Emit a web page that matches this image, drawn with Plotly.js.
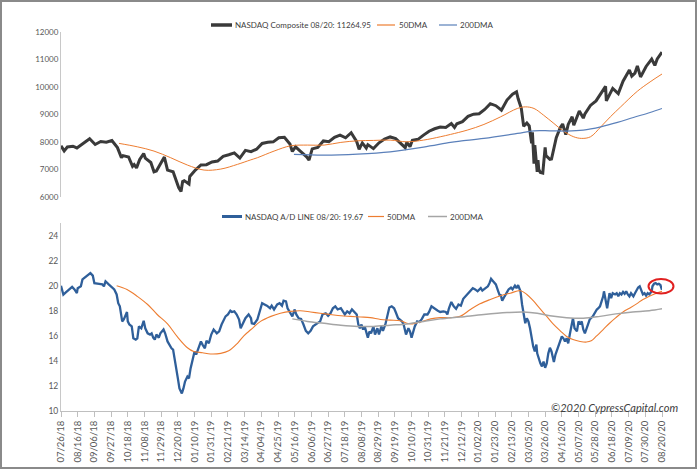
<!DOCTYPE html>
<html>
<head>
<meta charset="utf-8">
<script src="https://cdn.plot.ly/plotly-3.0.1.min.js"></script>
<style>
  html, body { margin: 0; padding: 0; background: #fff; }
  #wrap { position: relative; width: 700px; height: 473px; }
  #chart { width: 700px; height: 473px; }
  #frame { position: absolute; left: 0; top: 0; width: 693px; height: 465px; border: 2px solid #8a8a8a; pointer-events: none; }
</style>
</head>
<body>
<div id="wrap"><div id="chart"></div><div id="frame"></div></div>
<script>
// ---------- DATA ----------
const startDate = '2018-07-26';
const endDate = '2020-08-20';
const tickFormat = '%m/%d/%y';

const nasdaqDates = ['2018-07-26','2018-07-30','2018-08-03','2018-08-10','2018-08-15','2018-08-17','2018-08-24','2018-08-31','2018-09-07','2018-09-14','2018-09-21','2018-09-28','2018-10-05','2018-10-10','2018-10-12','2018-10-19','2018-10-24','2018-10-26','2018-10-29','2018-11-02','2018-11-07','2018-11-09','2018-11-16','2018-11-20','2018-11-23','2018-11-30','2018-12-03','2018-12-07','2018-12-14','2018-12-21','2018-12-24','2018-12-26','2018-12-28','2019-01-03','2019-01-04','2019-01-11','2019-01-18','2019-01-25','2019-02-01','2019-02-08','2019-02-15','2019-02-22','2019-03-01','2019-03-08','2019-03-15','2019-03-22','2019-03-29','2019-04-05','2019-04-12','2019-04-19','2019-04-26','2019-05-03','2019-05-10','2019-05-13','2019-05-17','2019-05-24','2019-05-31','2019-06-03','2019-06-07','2019-06-14','2019-06-21','2019-06-28','2019-07-05','2019-07-12','2019-07-19','2019-07-26','2019-08-02','2019-08-05','2019-08-09','2019-08-14','2019-08-16','2019-08-23','2019-08-30','2019-09-06','2019-09-13','2019-09-20','2019-09-27','2019-10-02','2019-10-04','2019-10-08','2019-10-11','2019-10-18','2019-10-25','2019-11-01','2019-11-08','2019-11-15','2019-11-22','2019-11-29','2019-12-03','2019-12-06','2019-12-13','2019-12-20','2019-12-27','2020-01-03','2020-01-10','2020-01-17','2020-01-24','2020-01-31','2020-02-07','2020-02-14','2020-02-19','2020-02-21','2020-02-25','2020-02-28','2020-03-03','2020-03-06','2020-03-09','2020-03-10','2020-03-12','2020-03-13','2020-03-16','2020-03-17','2020-03-18','2020-03-20','2020-03-23','2020-03-26','2020-03-27','2020-04-01','2020-04-03','2020-04-09','2020-04-14','2020-04-17','2020-04-21','2020-04-24','2020-04-29','2020-05-01','2020-05-08','2020-05-13','2020-05-15','2020-05-22','2020-05-29','2020-06-05','2020-06-10','2020-06-11','2020-06-19','2020-06-26','2020-07-02','2020-07-10','2020-07-13','2020-07-17','2020-07-20','2020-07-24','2020-07-31','2020-08-07','2020-08-11','2020-08-14','2020-08-20'];
const nasdaqValues = [7852,7671,7812,7839,7775,7816,7945,8109,7903,8010,7987,8046,7788,7422,7497,7449,7108,7167,7050,7357,7570,7407,7247,6909,6939,7331,7442,6969,6911,6333,6193,6554,6585,6463,6739,6971,7157,7165,7264,7298,7472,7527,7595,7408,7688,7643,7729,7939,7985,7998,8146,8164,7917,7647,7816,7637,7453,7333,7742,7797,8032,8006,8162,8244,8146,8330,8004,7726,7959,7773,7896,7752,7963,8103,8177,8118,7940,7786,7982,7824,8057,8090,8243,8386,8475,8541,8520,8665,8521,8657,8735,8925,9007,9021,9179,9389,9315,9151,9521,9731,9817,9577,9221,8567,8684,8576,7950,8344,7201,7875,6905,7335,6990,6880,6861,7798,7502,7360,7373,8154,8516,8650,8263,8634,8915,8605,9121,8863,9015,9325,9490,9815,10020,9492,9946,9757,10208,10617,10391,10503,10767,10363,10745,11011,10782,11019,11265];

// moving averages (x = days since 07/26/18)
const nasdaq50Days = [73,96,117,138,159,180,201,222,238,247,268,289,310,331,352,373,393,414,435,456,477,490,511,532,553,574,584,595,607,620,632,645,655,666,679,691,704,725,741,756];
const nasdaq50Values = [7942,7818,7662,7420,7153,6970,7007,7178,7335,7420,7662,7855,7880,7880,7978,8036,8050,8062,8000,8062,8182,8269,8425,8632,8910,9214,9273,9214,8970,8669,8390,8182,8124,8182,8545,8910,9273,9842,10182,10470];
const nasdaq200Days = [293,331,373,414,456,490,502,532,574,595,615,636,657,679,700,720,741,756];
const nasdaq200Values = [7542,7516,7553,7636,7807,7978,8025,8124,8305,8400,8400,8390,8425,8545,8705,8887,9069,9214];

const adDays = [0,3,5,8,12,14,17,20,21,25,27,31,35,37,40,42,48,52,54,56,60,63,67,70,72,74,76,77,79,83,84,86,89,91,94,96,98,101,104,106,109,112,114,116,118,120,123,125,129,131,134,137,139,141,143,145,147,149,152,154,156,159,161,163,166,168,170,173,176,178,181,183,186,189,192,196,199,202,204,207,210,213,215,218,221,224,226,229,232,236,239,
 240,243,247,250,253,256,259,263,265,268,272,275,278,280,283,285,288,291,294,296,299,302,305,308,311,314,317,320,323,326,329,333,336,339,342,345,348,352,354,357,360,363,366,369,372,374,376,378,380,382,384,386,388,390,393,395,398,400,403,405,408,411,413,416,419,421,424,426,429,431,433,434,437,439,441,443,445,448,451,454,457,461,463,466,468,471,474,477,481,484,486,488,491,494,497,500,503,
 506,509,512,515,518,521,524,528,530,534,537,539,541,543,545,547,550,552,553,555,558,560,563,566,568,571,573,575,578,580,582,584,586,588,590,592,594,596,598,599,601,603,605,607,609,611,613,615,617,620,622,624,626,628,630,632,634,636,638,640,642,644,646,649,651,653,655,657,659,661,663,665,669,672,674,676,678,680,682,683,685,687,689,690,692,694,697,699,701,703,705,707,709,711,713,715,717,720,722,724,726,728,730,732,734,736,738,740,743,744,746,748,750,752,754,755,756];
const adValues = [20.0,19.28,19.4,19.55,19.8,19.9,19.7,19.4,19.8,19.95,20.5,20.7,20.9,21.0,20.8,20.2,20.15,20.1,19.95,20.35,20.1,19.95,19.7,19.3,18.6,18.35,17.7,17.15,17.3,17.9,17.15,16.9,16.75,15.8,15.7,15.8,16.75,16.6,17.2,16.6,16.2,16.1,16.2,15.85,15.7,16.1,15.85,16.2,16.5,16.2,15.55,15.15,15.0,14.9,14.2,13.55,12.6,11.8,11.4,11.8,12.35,12.75,12.6,13.4,14.2,14.75,14.5,15.0,15.55,15.3,15.0,15.6,15.4,16.1,16.5,16.2,16.35,16.9,17.15,17.55,17.7,18.0,17.9,17.95,17.7,17.3,16.6,17.0,17.4,17.7,17.4,
 17.0,16.95,17.3,17.9,18.6,18.5,18.4,18.2,18.4,18.1,18.5,18.6,18.4,18.8,18.75,18.2,17.9,17.55,18.1,17.7,17.4,17.35,16.9,16.4,16.2,16.4,16.75,16.9,17.0,17.15,17.7,17.8,17.6,17.8,18.2,18.35,18.1,18.2,18.0,17.7,17.95,17.8,18.1,17.9,17.7,16.9,16.6,16.9,16.5,16.75,16.2,15.85,16.35,16.2,16.75,16.1,16.6,16.1,16.75,16.4,16.9,17.7,18.25,18.35,18.2,17.9,17.4,17.3,17.15,16.9,16.4,16.1,16.6,16.35,15.85,16.4,16.75,17.15,17.1,17.35,17.7,17.7,17.9,18.35,18.25,18.1,18.0,17.9,17.95,17.9,17.7,18.2,18.7,18.35,18.15,18.5,18.4,
 18.95,19.15,19.4,19.55,19.8,19.7,19.55,19.8,19.6,19.8,19.95,20.2,20.55,20.4,20.2,20.1,19.55,19.2,19.3,18.8,19.15,19.4,19.7,19.85,19.7,20.0,19.8,20.05,19.55,18.5,17.7,17.0,17.4,17.15,16.6,15.8,15.15,14.75,15.3,14.6,14.1,13.8,13.55,13.95,13.45,13.8,14.6,15.05,14.75,13.9,14.5,14.9,15.15,15.7,15.95,15.8,15.55,15.8,15.4,16.1,16.75,17.4,16.6,16.35,17.15,16.9,17.15,16.5,16.2,16.6,16.9,17.3,17.55,17.9,18.1,18.2,18.35,18.75,19.15,19.55,18.9,18.2,19.0,19.4,19.0,19.4,19.3,19.4,19.15,19.4,19.3,19.5,19.35,19.55,19.3,19.15,19.4,19.15,19.4,19.7,19.85,19.95,19.6,19.3,19.4,19.2,19.4,19.3,19.55,19.95,20.15,20.2,20.1,20.15,20.05,19.8,19.67];

const ad50Days = [70,83,96,109,121,134,146,159,167,178,188,201,211,222,230,239,251,264,276,289,301,314,326,339,352,364,377,389,402,414,427,435,442,452,465,477,490,502,515,527,540,553,565,578,586,594,602,611,619,628,636,644,653,661,667,673,682,690,698,707,715,724,732,740,749,756];
const ad50Values = [20.0,19.7,19.15,18.5,17.7,16.95,15.95,15.05,14.75,14.65,14.55,14.6,14.8,15.4,16.0,16.5,17.15,17.55,17.8,17.95,18.0,17.9,17.8,17.7,17.6,17.55,17.5,17.45,17.3,17.25,17.2,17.0,16.95,17.1,17.35,17.45,17.45,17.55,18.1,18.55,18.9,19.2,19.4,19.6,19.3,18.8,18.2,17.55,16.95,16.4,15.95,15.7,15.55,15.5,15.6,15.95,16.5,17.0,17.45,17.9,18.2,18.55,18.9,19.15,19.4,19.55];
const ad200Days = [291,310,331,352,373,393,414,435,456,477,502,532,561,582,599,615,636,657,678,698,719,740,756];
const ad200Values = [17.35,17.15,17.0,16.85,16.75,16.75,16.85,16.95,17.15,17.35,17.5,17.7,17.85,17.9,17.8,17.6,17.45,17.4,17.55,17.75,17.9,18.0,18.15];

const topNames = ['NASDAQ Composite 08/20: 11264.95', '50DMA', '200DMA'];
const bottomNames = ['NASDAQ A/D LINE 08/20: 19.67', '50DMA', '200DMA'];
const topTicks = [6000, 7000, 8000, 9000, 10000, 11000, 12000];
const bottomTicks = [10, 12, 14, 16, 18, 20, 22, 24];
const copyright = '<i>©2020 CypressCapital.com</i>';

// ---------- HELPERS ----------
const t0 = Date.UTC(2018, 6, 26);
const toDate = d => new Date(t0 + d * 86400000).toISOString().slice(0, 10);

const FONT = 'Lato, "Open Sans", sans-serif';
const ORANGE = '#ED7D31';
const COLORS = {
  nasdaq: '#3a3a3a', nasdaq50: ORANGE, nasdaq200: '#5b80ba',
  ad: '#2f5f9a', ad50: ORANGE, ad200: '#a5a5a5'
};
const WIDTHS = { nasdaq: 3, nasdaq50: 1, nasdaq200: 1.2, ad: 2.3, ad50: 1.1, ad200: 1.5 };

const traces = [
  { x: nasdaqDates, y: nasdaqValues, name: topNames[0], type: 'scatter', mode: 'lines',
    line: { color: COLORS.nasdaq, width: WIDTHS.nasdaq }, xaxis: 'x2', yaxis: 'y2' },
  { x: nasdaq50Days.map(toDate), y: nasdaq50Values, name: topNames[1], type: 'scatter', mode: 'lines',
    line: { color: COLORS.nasdaq50, width: WIDTHS.nasdaq50, shape: 'spline' }, xaxis: 'x2', yaxis: 'y2' },
  { x: nasdaq200Days.map(toDate), y: nasdaq200Values, name: topNames[2], type: 'scatter', mode: 'lines',
    line: { color: COLORS.nasdaq200, width: WIDTHS.nasdaq200, shape: 'spline' }, xaxis: 'x2', yaxis: 'y2' },
  { x: adDays.map(toDate), y: adValues, name: bottomNames[0], type: 'scatter', mode: 'lines',
    line: { color: COLORS.ad, width: WIDTHS.ad }, xaxis: 'x', yaxis: 'y' },
  { x: ad50Days.map(toDate), y: ad50Values, name: bottomNames[1], type: 'scatter', mode: 'lines',
    line: { color: COLORS.ad50, width: WIDTHS.ad50, shape: 'spline' }, xaxis: 'x', yaxis: 'y' },
  { x: ad200Days.map(toDate), y: ad200Values, name: bottomNames[2], type: 'scatter', mode: 'lines',
    line: { color: COLORS.ad200, width: WIDTHS.ad200, shape: 'spline' }, xaxis: 'x', yaxis: 'y' }
];

const L = 61, R = 38, T = 32, B = 62;
const plotH = 473 - T - B;
const py = px => (473 - B - px) / plotH;        // pixel row -> paper y
const pxX = px => (px - L) / (700 - L - R);     // pixel col -> paper x

// hand-built legends (key line + label), positioned like the reference
const legendItems = [
  { row: 25,    x0: 211, x1: 232, tx: 233, name: topNames[0],    key: 'nasdaq',    w: 3.5 },
  { row: 25,    x0: 377, x1: 395, tx: 397, name: topNames[1],    key: 'nasdaq50',  w: 1.2 },
  { row: 25,    x0: 439, x1: 457, tx: 458, name: topNames[2],    key: 'nasdaq200', w: 1.2 },
  { row: 216.5, x0: 222, x1: 242, tx: 243, name: bottomNames[0], key: 'ad',        w: 3 },
  { row: 216.5, x0: 368, x1: 384, tx: 385, name: bottomNames[1], key: 'ad50',      w: 1.2 },
  { row: 216.5, x0: 428, x1: 447, tx: 448, name: bottomNames[2], key: 'ad200',     w: 1.5 }
];

const shapes = legendItems.map(it => ({
  type: 'line', xref: 'paper', yref: 'paper',
  x0: pxX(it.x0), x1: pxX(it.x1), y0: py(it.row), y1: py(it.row),
  line: { color: COLORS[it.key], width: it.w }
}));
shapes.push({ type: 'circle', xref: 'paper', yref: 'paper',
  x0: pxX(648.5), x1: pxX(673.5), y0: py(293.5), y1: py(279),
  line: { color: '#e02020', width: 2 } });

const annotations = legendItems.map(it => ({
  text: it.name, xref: 'paper', yref: 'paper', x: pxX(it.tx), y: py(it.row),
  xanchor: 'left', yanchor: 'middle', showarrow: false,
  font: { family: FONT, size: 8, color: '#404040' }
}));
annotations.push({ text: copyright, xref: 'paper', yref: 'paper', x: pxX(680), y: py(407),
  xanchor: 'right', yanchor: 'middle', showarrow: false,
  font: { family: FONT, size: 11, color: '#404040' } });

const layout = {
  width: 700, height: 473,
  margin: { l: L, r: R, t: T, b: B },
  paper_bgcolor: '#fff', plot_bgcolor: '#fff',
  font: { family: FONT, size: 9, color: '#595959' },
  showlegend: false,
  xaxis: {
    type: 'date', range: [startDate, endDate], anchor: 'y', domain: [0, 1],
    tickmode: 'linear', tick0: startDate, dtick: 21 * 86400000, tickformat: tickFormat,
    tickangle: -90, ticks: 'outside', ticklen: 5, tickcolor: '#bfbfbf',
    showline: true, linecolor: '#bfbfbf', linewidth: 1, showgrid: false, zeroline: false,
    tickfont: { family: FONT, size: 9.5, color: '#595959' }
  },
  yaxis: {
    domain: [0, py(223)], range: [10, 25], tickvals: bottomTicks, anchor: 'x',
    showline: true, linecolor: '#c8c8c8', linewidth: 1, showgrid: false, zeroline: false,
    ticks: '', tickfont: { family: FONT, size: 8.5, color: '#595959' }
  },
  xaxis2: { type: 'date', matches: 'x', anchor: 'y2', visible: false, range: [startDate, endDate] },
  yaxis2: {
    domain: [py(196.7), 1], range: [6000, 12000], tickvals: topTicks, tickformat: 'd', anchor: 'x2',
    showline: true, linecolor: '#c8c8c8', linewidth: 1, showgrid: false, zeroline: false,
    ticks: '', tickfont: { family: FONT, size: 8, color: '#595959' }
  },
  shapes: shapes,
  annotations: annotations
};

Plotly.newPlot('chart', traces, layout, { displayModeBar: false, staticPlot: true });
</script>
</body>
</html>
